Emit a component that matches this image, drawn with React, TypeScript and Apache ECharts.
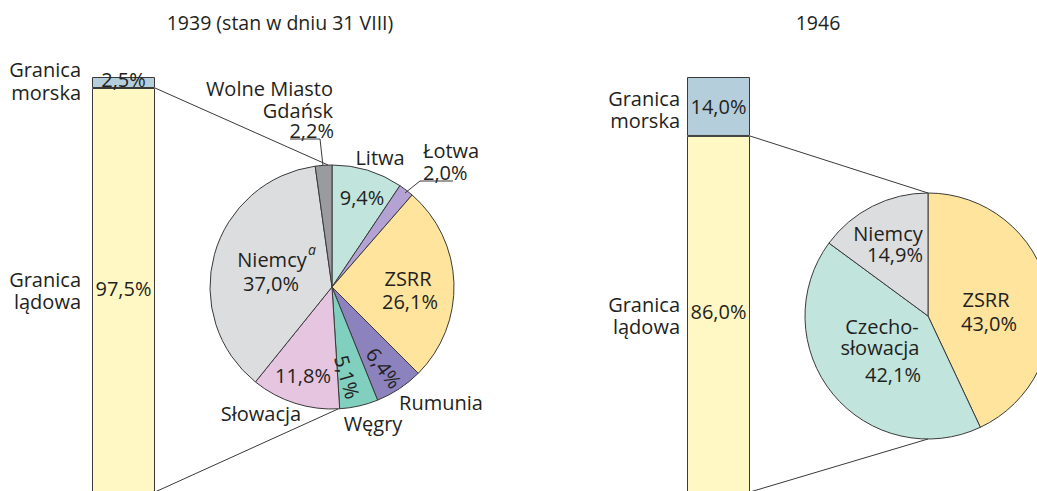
import React, { useEffect, useRef } from "react";
import * as echarts from "echarts";

// ---- data ----
const titles = ["1939 (stan w dniu 31 VIII)", "1946"];
const borderTypes = ["Granica morska", "Granica lądowa"];
const border1939 = [2.5, 97.5]; // sea, land
const border1946 = [14.0, 86.0];
const neighbours1939 = ["Litwa", "Łotwa", "ZSRR", "Rumunia", "Węgry", "Słowacja", "Niemcy", "Wolne Miasto Gdańsk"];
const neighbours1939Values = [9.4, 2.0, 26.1, 6.4, 5.1, 11.8, 37.0, 2.2];
const neighbours1946 = ["ZSRR", "Czechosłowacja", "Niemcy"];
const neighbours1946Values = [43.0, 42.1, 14.9];

// ---- styles ----
const FONT = "'Open Sans', sans-serif";
const TXT = "#231f20";
const EDGE = "#3a3a3a";
const seaColor = "#b5cedb";
const landColor = "#fff8c5";
const colors1939 = ["#c1e4dc", "#b3a2d3", "#fee49d", "#8c82bd", "#80cfbf", "#e5c5df", "#dcdddf", "#9a9b9f"];
const colors1946 = ["#fee49d", "#c1e4dc", "#dcdddf"];

const pie1 = { cx: 332, cy: 287, r: 122 };
const pie2 = { cx: 928, cy: 316, r: 123 };

const fmt = (v: number) => v.toFixed(1).replace(".", ",") + "%";

function txt(text: string, x: number, y: number, opts: any = {}) {
  return {
    type: "text",
    x,
    y,
    z: 100,
    rotation: opts.rotation || 0,
    silent: true,
    style: {
      text,
      fill: TXT,
      font: `${opts.italic ? "italic " : ""}${opts.size || 20}px ${FONT}`,
      align: opts.align || "center",
      verticalAlign: "middle",
    },
  };
}

function line(x1: number, y1: number, x2: number, y2: number) {
  return { type: "line", z: 100, silent: true, shape: { x1, y1, x2, y2 }, style: { stroke: EDGE, lineWidth: 1 } };
}

function polyline(points: number[][]) {
  return { type: "polyline", z: 100, silent: true, shape: { points }, style: { stroke: EDGE, lineWidth: 1, fill: "none" } };
}

export default function App() {
  const ref = useRef<HTMLDivElement>(null);
  useEffect(() => {
    if (!ref.current) return;
    const chart = echarts.init(ref.current, undefined, { renderer: "svg" });
    const deg = Math.PI / 180;
    const n = neighbours1939;
    const v = neighbours1939Values;
    const m = neighbours1946;
    const w = neighbours1946Values;

    const barSeries = (idx: number, vals: number[], landLabelY: number) => [
      {
        type: "bar",
        xAxisIndex: idx,
        yAxisIndex: idx,
        stack: "b" + idx,
        name: borderTypes[1],
        data: [vals[1]],
        barWidth: "100%",
        itemStyle: { color: landColor, borderColor: EDGE, borderWidth: 1 },
        label: {
          show: true,
          position: ["50%", landLabelY],
          align: "center",
          verticalAlign: "middle",
          formatter: () => fmt(vals[1]),
          color: TXT,
          fontFamily: FONT,
          fontSize: 20,
        },
      },
      {
        type: "bar",
        xAxisIndex: idx,
        yAxisIndex: idx,
        stack: "b" + idx,
        name: borderTypes[0],
        data: [vals[0]],
        barWidth: "100%",
        itemStyle: { color: seaColor, borderColor: EDGE, borderWidth: 1 },
        label: {
          show: true,
          position: "inside",
          offset: idx === 0 ? [0, -3] : [0, 0],
          formatter: () => fmt(vals[0]),
          color: TXT,
          fontFamily: FONT,
          fontSize: 20,
        },
      },
    ];

    const option: any = {
      animation: false,
      textStyle: { fontFamily: FONT },
      grid: [
        { left: 92, top: 77, width: 63, height: 440 },
        { left: 687, top: 77, width: 63, height: 421 },
      ],
      xAxis: [
        { type: "category", gridIndex: 0, data: ["1939"], show: false },
        { type: "category", gridIndex: 1, data: ["1946"], show: false },
      ],
      yAxis: [
        { type: "value", gridIndex: 0, min: 0, max: 100, show: false },
        { type: "value", gridIndex: 1, min: 0, max: 100, show: false },
      ],
      series: [
        ...barSeries(0, border1939, 200),
        ...barSeries(1, border1946, 176),
        {
          type: "pie",
          center: [pie1.cx, pie1.cy],
          radius: pie1.r,
          startAngle: 90,
          clockwise: true,
          label: { show: false },
          labelLine: { show: false },
          emphasis: { disabled: true },
          itemStyle: { borderColor: EDGE, borderWidth: 1 },
          data: n.map((name, i) => ({ name, value: v[i], itemStyle: { color: colors1939[i] } })),
        },
        {
          type: "pie",
          center: [pie2.cx, pie2.cy],
          radius: pie2.r,
          startAngle: 90,
          clockwise: true,
          label: { show: false },
          labelLine: { show: false },
          emphasis: { disabled: true },
          itemStyle: { borderColor: EDGE, borderWidth: 1 },
          data: m.map((name, i) => ({ name, value: w[i], itemStyle: { color: colors1946[i] } })),
        },
      ],
      graphic: [
        txt(titles[0], 280, 22, { size: 19.5 }),
        txt(titles[1], 818, 22, { size: 19.5 }),
        // bar category labels
        txt("Granica", 81, 69, { align: "right" }),
        txt("morska", 81, 92, { align: "right" }),
        txt("Granica", 81, 279, { align: "right" }),
        txt("lądowa", 81, 301, { align: "right" }),
        txt("Granica", 680, 98, { align: "right" }),
        txt("morska", 680, 120, { align: "right" }),
        txt("Granica", 680, 304, { align: "right" }),
        txt("lądowa", 680, 326, { align: "right" }),
        // connectors
        line(155, 88, 328, pie1.cy - pie1.r),
        line(155, 492, 338, pie1.cy + pie1.r),
        line(750, 136, pie2.cx, pie2.cy - pie2.r),
        line(750, 492, pie2.cx, pie2.cy + pie2.r),
        // 1939 pie labels
        txt(n[0], 380, 157),
        txt(fmt(v[0]), 362, 197),
        txt(n[1], 423, 150, { align: "left" }),
        txt(fmt(v[1]), 423, 172, { align: "left" }),
        polyline([[453, 181], [420, 181], [405, 193]]),
        txt(n[2], 408, 278),
        txt(fmt(v[2]), 410, 301),
        txt(n[3], 441, 402),
        txt(fmt(v[3]), 384, 368, { rotation: -54 * deg }),
        txt(n[4], 373, 423),
        txt(fmt(v[4]), 347, 377, { rotation: -74 * deg }),
        txt(n[5], 261, 413),
        txt(fmt(v[5]), 303, 375),
        txt(n[6], 272, 259),
        txt("a", 312, 249, { size: 14, italic: true }),
        txt(fmt(v[6]), 271, 283),
        txt("Wolne Miasto", 333, 88, { align: "right" }),
        txt("Gdańsk", 333, 110, { align: "right" }),
        txt(fmt(v[7]), 334, 130, { align: "right" }),
        polyline([[290, 139], [320, 139], [323, 166]]),
        // 1946 pie labels
        txt(m[0], 986, 299),
        txt(fmt(w[0]), 989, 323),
        txt("Czecho-", 882, 326),
        txt("słowacja", 880, 347),
        txt(fmt(w[1]), 893, 374),
        txt(m[2], 888, 233),
        txt(fmt(w[2]), 895, 254),
      ],
    };
    chart.setOption(option);
    return () => chart.dispose();
  }, []);
  return (
    <div style={{ position: "absolute", left: 0, top: 0, width: 1037, height: 491, overflow: "hidden", background: "#fff" }}>
      <div ref={ref} style={{ width: 1037, height: 560 }} />
    </div>
  );
}
